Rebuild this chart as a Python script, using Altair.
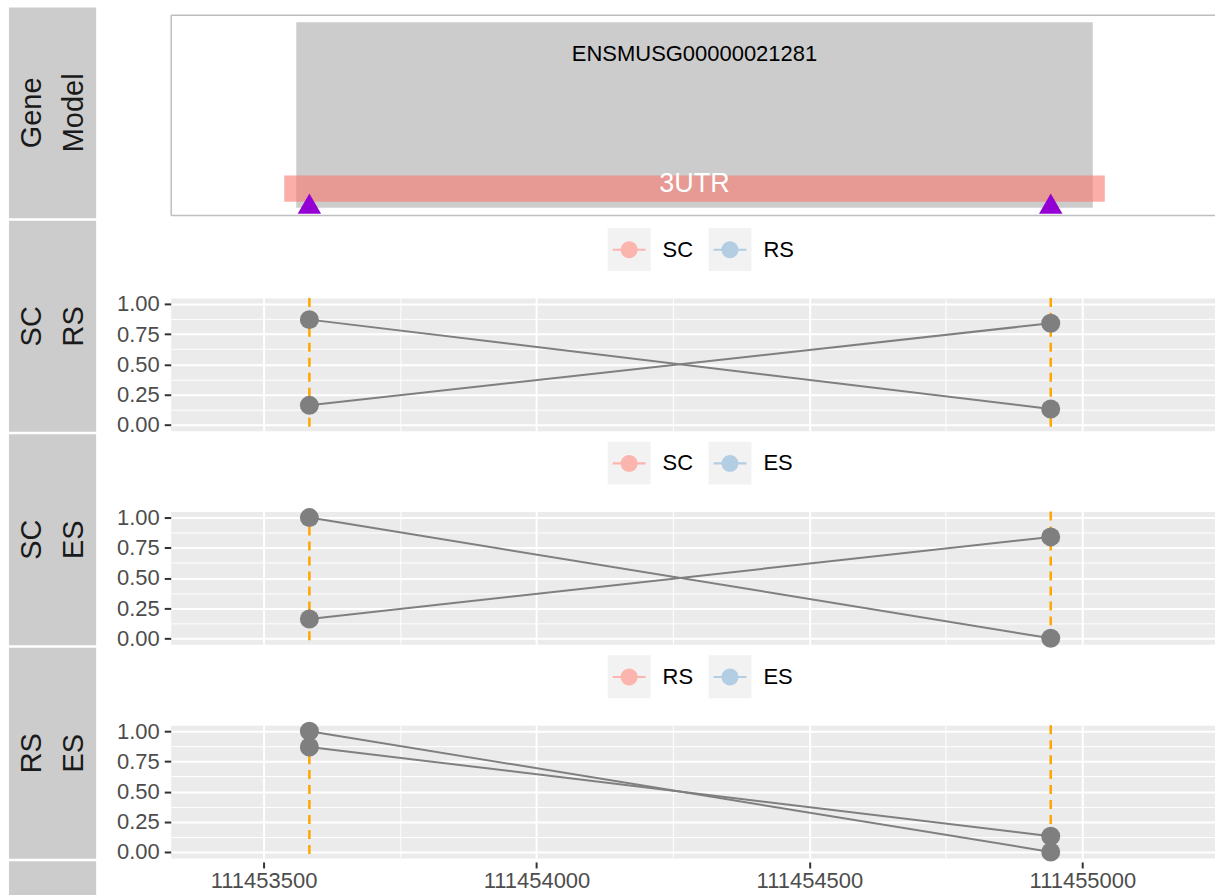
import altair as alt
import pandas as pd

FONT = "Liberation Sans"

# ---- gene model (genomic coordinates, chr bp) ----
gene_id = "ENSMUSG00000021281"
gene_start = [111453560]
gene_end = [111455019]
utr_label = "3UTR"
utr_start = [111453538]
utr_end = [111455041]
pas_sites = [111453584, 111454942]

# ---- relative usage of the two polyA sites per sample ----
usage = {
    "SC": [0.16, 0.84],
    "RS": [0.87, 0.13],
    "ES": [1.00, 0.00],
}
comparisons = [("SC", "RS"), ("SC", "ES"), ("RS", "ES")]

strip_labels = ["Gene\nModel", "SC\nRS", "SC\nES", "RS\nES", ""]

x_major = [111453500, 111454000, 111454500, 111455000]
x_minor = [111453750, 111454250, 111454750]
y_major = [0.0, 0.25, 0.5, 0.75, 1.0]
y_minor = [0.125, 0.375, 0.625, 0.875]

# ---- layout / style ----
X_DOMAIN = [111453330, 111455242]
Y_DOMAIN = [-0.05, 1.05]
PANEL_W = 1045.5
GENE_H = 200.5
PANEL_H = 133
PAIR_COLOURS = ["#FBB4AE", "#B3CDE3"]
KEY_BG = "#F2F2F2"
GREY = "#7F7F7F"
BORDER = "#BEBEBE"
AXIS_FONT_SIZE = 22

# track levels inside the gene model panel (0 = bottom, 10 = top)
GENE_Y = (0.36, 9.63)
UTR_Y = (0.66, 1.98)
GENE_LABEL_Y = 8.03
UTR_LABEL_Y = 1.57
PAS_MARK_Y = 0.57

# legend key glyphs: a square key background, and a point with a line through it
BOX_PATH = "M-1,-1L1,-1L1,1L-1,1Z"
KEY_PATH = (
    "M-0.767,-0.047L0.767,-0.047L0.767,0.047L-0.767,0.047Z"
    "M0,-0.395C0.218,-0.395,0.395,-0.218,0.395,0"
    "C0.395,0.218,0.218,0.395,0,0.395"
    "C-0.218,0.395,-0.395,0.218,-0.395,0"
    "C-0.395,-0.218,-0.218,-0.395,0,-0.395Z"
)
KEY_PREFIX = "key:"

X_MAJOR_TEST = "datum.value % 500 === 0"
Y_MAJOR_TEST = "datum.value * 4 % 1 === 0"

xs = alt.Scale(domain=X_DOMAIN, nice=False, zero=False)
ys = alt.Scale(domain=Y_DOMAIN, nice=False, zero=False)
gy = alt.Scale(domain=[0, 10], nice=False, zero=False)


def border_axis(orient):
    """Axis drawn only as a panel border line."""
    return alt.Axis(
        orient=orient,
        domain=True,
        domainColor=BORDER,
        domainWidth=1.5,
        labels=False,
        ticks=False,
        grid=False,
        title=None,
    )


# ---------------- gene model track ----------------
gene_df = pd.DataFrame({"gene": [gene_id], "start": gene_start, "end": gene_end})
utr_df = pd.DataFrame({"feature": [utr_label], "start": utr_start, "end": utr_end})
pas_df = pd.DataFrame({"pos": pas_sites})

gene_body = alt.Chart(gene_df).mark_rect(color="#CCCCCC").encode(
    x=alt.X("start:Q", scale=xs, axis=border_axis("bottom")),
    x2="end:Q",
    y=alt.YDatum(GENE_Y[0], scale=gy, axis=border_axis("left")),
    y2=alt.Y2Datum(GENE_Y[1]),
)
gene_text = (
    alt.Chart(gene_df)
    .transform_calculate(mid="(datum.start + datum.end) / 2")
    .mark_text(font=FONT, fontSize=22, color="black", baseline="middle", align="center")
    .encode(
        x=alt.X("mid:Q", scale=xs, axis=None),
        y=alt.YDatum(GENE_LABEL_Y, scale=gy, axis=None),
        text="gene:N",
    )
)
utr_rect = alt.Chart(utr_df).mark_rect(color="#F8766D", opacity=0.6).encode(
    x=alt.X("start:Q", scale=xs, axis=None),
    x2="end:Q",
    y=alt.YDatum(UTR_Y[0], scale=gy, axis=None),
    y2=alt.Y2Datum(UTR_Y[1]),
)
utr_text = (
    alt.Chart(utr_df)
    .transform_calculate(mid="(datum.start + datum.end) / 2")
    .mark_text(font=FONT, fontSize=27, color="white", baseline="middle", align="center")
    .encode(
        x=alt.X("mid:Q", scale=xs, axis=None),
        y=alt.YDatum(UTR_LABEL_Y, scale=gy, axis=None),
        text="feature:N",
    )
)
pas_marks = alt.Chart(pas_df).mark_point(
    shape="triangle-up", filled=True, color="#9400D3", size=550, opacity=1
).encode(
    x=alt.X("pos:Q", scale=xs, axis=border_axis("top")),
    y=alt.YDatum(PAS_MARK_Y, scale=gy, axis=None),
)

gene_chart = (
    alt.layer(gene_body, gene_text, utr_rect, utr_text, pas_marks)
    .resolve_axis(x="independent", y="independent")
    .properties(
        width=PANEL_W,
        height=GENE_H,
        view=alt.ViewBackground(fill="white", stroke="transparent"),
    )
)


# ---------------- usage panels ----------------
def x_axis(show_labels):
    common = dict(
        values=x_major + x_minor,
        grid=True,
        gridColor="white",
        gridWidth={"condition": {"test": X_MAJOR_TEST, "value": 2}, "value": 1},
        domain=False,
        title=None,
    )
    if not show_labels:
        return alt.Axis(labels=False, ticks=False, **common)
    return alt.Axis(
        format="d",
        labelExpr=f"{X_MAJOR_TEST} ? datum.label : ''",
        ticks=True,
        tickOpacity={"condition": {"test": X_MAJOR_TEST, "value": 1}, "value": 0},
        tickSize=6,
        tickWidth=2,
        tickColor="#333333",
        offset=4,
        labelPadding=3,
        labelFont=FONT,
        labelFontSize=AXIS_FONT_SIZE,
        labelColor="#4D4D4D",
        **common,
    )


y_axis = alt.Axis(
    values=y_major + y_minor,
    format=".2f",
    labelExpr=f"{Y_MAJOR_TEST} ? datum.label : ''",
    grid=True,
    gridColor="white",
    gridWidth={"condition": {"test": Y_MAJOR_TEST, "value": 2}, "value": 1},
    tickOpacity={"condition": {"test": Y_MAJOR_TEST, "value": 1}, "value": 0},
    tickSize=6.5,
    tickWidth=2,
    tickColor="#333333",
    labelPadding=5,
    labelFont=FONT,
    labelFontSize=AXIS_FONT_SIZE,
    labelColor="#4D4D4D",
    domain=False,
    title=None,
)

legend_common = dict(
    orient="none",
    legendX=437.7,
    legendY=-70,
    direction="horizontal",
    title=None,
    padding=0,
    symbolSize=1849,
    symbolStrokeWidth=0,
    symbolOpacity=1,
    labelFont=FONT,
    labelFontSize=22,
    labelColor="black",
    labelOffset=12,
    columnPadding=15,
)


def usage_panel(pair, show_labels):
    df = pd.DataFrame(
        {
            "series": [s for s in pair for _ in pas_sites],
            "pos": pas_sites * len(pair),
            "usage": [v for s in pair for v in usage[s]],
        }
    )
    # separate field for the key backgrounds so they get a legend of their own
    df["key"] = KEY_PREFIX + df["series"]

    x = alt.X("pos:Q", scale=xs, axis=x_axis(show_labels))
    y = alt.Y("usage:Q", scale=ys, axis=y_axis)
    base = alt.Chart(df).encode(x=x, y=y)

    key_boxes = base.mark_point(filled=True, opacity=0).encode(
        color=alt.Color(
            "key:N",
            scale=alt.Scale(domain=[KEY_PREFIX + s for s in pair], range=[KEY_BG, KEY_BG]),
            legend=alt.Legend(
                symbolType=BOX_PATH,
                labelOpacity=0,
                labelExpr=f"slice(datum.label, {len(KEY_PREFIX)})",
                **legend_common,
            ),
        )
    )
    key_glyphs = base.mark_point(filled=True, opacity=0).encode(
        fill=alt.Fill(
            "series:N",
            scale=alt.Scale(domain=list(pair), range=PAIR_COLOURS),
            legend=alt.Legend(symbolType=KEY_PATH, **legend_common),
        )
    )
    guides = alt.Chart(pas_df).mark_rule(
        color="#FFA500", strokeDash=[9, 6], strokeWidth=2.5
    ).encode(x=x)
    lines = base.mark_line(color=GREY, strokeWidth=2).encode(detail="series:N")
    points = base.mark_point(filled=True, color=GREY, size=361, opacity=1)

    return alt.layer(key_boxes, key_glyphs, guides, lines, points).properties(
        width=PANEL_W,
        height=PANEL_H,
        view=alt.ViewBackground(fill="#EBEBEB", stroke="transparent"),
    )


panels = [usage_panel(pair, i == len(comparisons) - 1) for i, pair in enumerate(comparisons)]


# ---------------- row strips ----------------
strip_df = pd.DataFrame({"idx": list(range(len(strip_labels))), "label": strip_labels})
STEP = 213.8
GAP = 2.5
LINE_H = 42
strip_y = alt.Y(
    "idx:O",
    axis=None,
    scale=alt.Scale(paddingInner=GAP / STEP, paddingOuter=0),
)
strip_rects = alt.Chart(strip_df).mark_rect(
    color="#CCCCCC", yOffset=-7.5, y2Offset=-7.5
).encode(y=strip_y)
strip_text = alt.Chart(strip_df).mark_text(
    font=FONT,
    fontSize=29,
    color="#1A1A1A",
    angle=270,
    align="center",
    baseline="middle",
    lineBreak="\n",
    lineHeight=LINE_H,
    dy=-LINE_H / 2,
    yOffset=-7.5,
).encode(y=strip_y, text="label:N")
strips = alt.layer(strip_rects, strip_text).properties(
    width=87.3,
    height=STEP * len(strip_labels) - GAP,
    view=alt.ViewBackground(stroke="transparent"),
)


# ---------------- assemble ----------------
data_block = alt.vconcat(*panels, spacing=81, bounds="flush").resolve_scale(
    color="independent", fill="independent"
)
plots = alt.vconcat(gene_chart, data_block, spacing=82.5, bounds="flush").resolve_scale(
    color="independent", fill="independent"
)
chart = (
    alt.hconcat(strips, plots, spacing=74, bounds="flush")
    .resolve_scale(color="independent", fill="independent")
    .properties(padding={"left": 8, "top": 6, "right": 0, "bottom": 0}, background="white")
)

chart.save("out.html", embed_options={"renderer": "svg", "actions": False})
